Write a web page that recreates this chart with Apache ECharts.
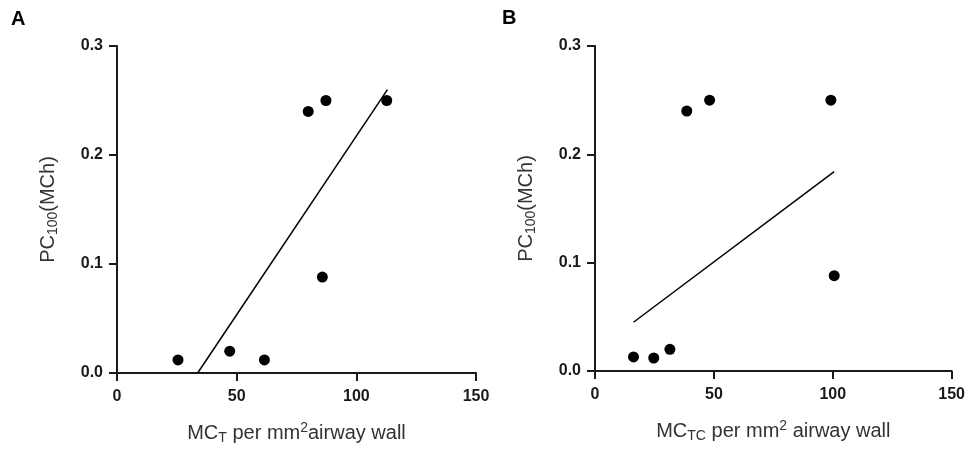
<!DOCTYPE html>
<html>
<head>
<meta charset="UTF-8">
<title>PC100 vs MC</title>
<script src="https://cdn.jsdelivr.net/npm/echarts@6/dist/echarts.min.js"></script>
</head>
<body style="margin:0;background:#fff;">
	<div id="main" style="width:968px;height:450px;"></div>
	<script type="text/javascript">
		// panel A: MC_T per mm2 airway wall vs PC100
		var pointsA = [[25.5,0.012],[47.1,0.02],[61.6,0.012],[79.9,0.24],[87.3,0.25],[112.7,0.25],[85.8,0.088]];
		var fitA = [[33.7,0],[113,0.26]];
		// panel B: MC_TC per mm2 airway wall vs PC100
		var pointsB = [[16.2,0.013],[24.7,0.012],[31.5,0.02],[38.6,0.24],[48.2,0.25],[99.2,0.25],[100.6,0.088]];
		var fitB = [[16.2,0.045],[100.6,0.184]];
		var xTicks = [0,50,100,150];
		var yTicks = [0,0.1,0.2,0.3];

		var ink = '#1a1a1a';
		var font = 'Liberation Sans, Arial, sans-serif';
		var rich = {
			a:{fontSize:20,color:'#333',fontFamily:font},
			s:{fontSize:14,color:'#333',fontFamily:font,padding:[10,0,0,0]},
			p:{fontSize:14,color:'#333',fontFamily:font,padding:[0,0,10,0]}
		};

		function xAxis(idx,name){
			return {
				gridIndex:idx,type:'value',min:xTicks[0],max:xTicks[xTicks.length-1],interval:50,
				name:name,nameLocation:'middle',nameGap:48,
				nameTextStyle:{rich:rich},
				axisLine:{lineStyle:{color:ink,width:2}},
				axisTick:{length:8,lineStyle:{color:ink,width:2}},
				axisLabel:{color:ink,fontSize:16,fontWeight:'bold',fontFamily:font,margin:16},
				splitLine:{show:false}
			};
		}
		function yAxis(idx){
			return {
				gridIndex:idx,type:'value',min:yTicks[0],max:yTicks[yTicks.length-1],interval:0.1,
				name:'{a|PC}{s|100}{a|(MCh)}',nameLocation:'middle',nameGap:57,nameRotate:90,
				nameTextStyle:{rich:rich},
				axisLine:{show:true,lineStyle:{color:ink,width:2}},
				axisTick:{show:true,length:8,lineStyle:{color:ink,width:2}},
				axisLabel:{color:ink,fontSize:16,fontWeight:'bold',fontFamily:font,margin:14,
					formatter:function(v){return v.toFixed(1);}},
				splitLine:{show:false}
			};
		}
		function dots(idx,data){
			return {type:'scatter',xAxisIndex:idx,yAxisIndex:idx,data:data,symbolSize:11,
				itemStyle:{color:'#000',opacity:1},z:3};
		}
		function fit(idx,data){
			return {type:'line',xAxisIndex:idx,yAxisIndex:idx,data:data,symbol:'none',
				lineStyle:{color:'#000',width:1.5}};
		}

		var myChart = echarts.init(document.getElementById('main'));
		var option = {
			animation:false,
			backgroundColor:'#fff',
			title:[
				{text:'A',left:11,top:9,padding:0,textStyle:{fontSize:20,fontWeight:'bold',color:'#000',fontFamily:font}},
				{text:'B',left:502,top:8,padding:0,textStyle:{fontSize:20,fontWeight:'bold',color:'#000',fontFamily:font}}
			],
			grid:[
				{left:117,top:46,right:492,bottom:77},
				{left:595,top:46,right:14,bottom:79}
			],
			xAxis:[
				xAxis(0,'{a|MC}{s|T}{a| per mm}{p|2}{a|airway wall}'),
				xAxis(1,'{a|MC}{s|TC}{a| per mm}{p|2}{a| airway wall}')
			],
			yAxis:[yAxis(0),yAxis(1)],
			series:[fit(0,fitA),dots(0,pointsA),fit(1,fitB),dots(1,pointsB)]
		};
		myChart.setOption(option);
	</script>
</body>
</html>
